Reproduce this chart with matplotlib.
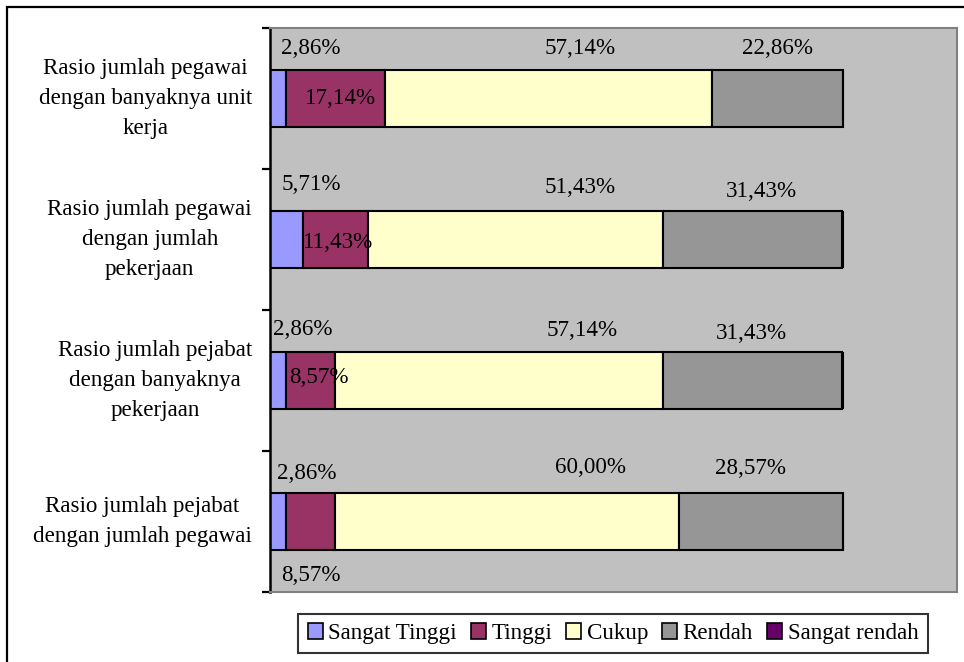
import matplotlib
matplotlib.use("Agg")
import matplotlib.pyplot as plt
from matplotlib.patches import Rectangle, Patch
import numpy as np

plt.rcParams['font.family'] = ['Liberation Serif', 'DejaVu Serif']

categories = [
    "Rasio jumlah pegawai\ndengan banyaknya unit\nkerja",
    "Rasio jumlah pegawai\ndengan jumlah\npekerjaan",
    "Rasio jumlah pejabat\ndengan banyaknya\npekerjaan",
    "Rasio jumlah pejabat\ndengan jumlah pegawai",
]
series_names = ["Sangat Tinggi", "Tinggi", "Cukup", "Rendah", "Sangat rendah"]
sangat_tinggi = [2.86, 5.71, 2.86, 2.86]
tinggi = [17.14, 11.43, 8.57, 8.57]
cukup = [57.14, 51.43, 57.14, 60.00]
rendah = [22.86, 31.43, 31.43, 28.57]
sangat_rendah = [0.0, 0.0, 0.0, 0.0]
colors = ["#9999FF", "#993366", "#FFFFCC", "#969696", "#660066"]

# label placement offsets (data units) relative to segment centre, per series x bar
label_dx = [[5.74, 4.3, 4.25, 5.04],
            [0.81, 0.47, 1.43, 0.03],
            [5.63, 11.35, 14.5, 14.5],
            [0.03, 1.5, -0.2, -1.8]]
label_dy = [[-0.355, -0.39, -0.36, -0.34],
            [0.0, 0.02, -0.02, 0.38],
            [-0.355, -0.37, -0.355, -0.38],
            [-0.355, -0.34, -0.33, -0.375]]

FS = 16.6
W, H = 964, 662
fig = plt.figure(figsize=(W / 100, H / 100), dpi=100)
fig.patch.set_facecolor("white")
fig.patches.append(Rectangle((7 / W, -0.1), 1.2, 1 - 7 / H + 0.1, transform=fig.transFigure,
                             fill=False, edgecolor="black", linewidth=1.6))

ax = fig.add_axes([270 / W, 1 - 592 / H, (957 - 270) / W, (592 - 28) / H])
ax.set_facecolor("#C0C0C0")

all_series = [sangat_tinggi, tinggi, cukup, rendah, sangat_rendah]
y = np.arange(len(categories))
left = np.zeros(len(categories))
for si, vals in enumerate(all_series):
    vals = np.array(vals)
    ax.barh(y, vals, left=left, height=0.4, color=colors[si], edgecolor="black", linewidth=1.5,
            label=series_names[si], zorder=2)
    if si < 4:
        for bi in range(len(categories)):
            cx = left[bi] + vals[bi] / 2 + label_dx[si][bi]
            cy = y[bi] + label_dy[si][bi]
            ax.text(cx, cy, f"{vals[bi]:.2f}%".replace(".", ","), ha="center", va="center",
                    fontsize=FS, color="black", zorder=3)
    left = left + vals

ax.set_xlim(0, 120)
ax.set_ylim(len(categories) - 0.5, -0.5)
ax.set_xticks([])
ax.set_yticks(y)
ax.set_yticklabels(categories, fontsize=FS, multialignment="center", linespacing=1.55, va="center")
ax.set_yticks(np.arange(-0.5, len(categories), 1.0), minor=True)
ax.tick_params(axis="y", which="major", length=0, pad=13)
ax.tick_params(axis="y", which="minor", length=6, width=1.6, color="black", direction="out")
for s in ["top", "right", "bottom"]:
    ax.spines[s].set_color("#808080")
    ax.spines[s].set_linewidth(1.5)
ax.spines["left"].set_color("black")
ax.spines["left"].set_linewidth(1.8)

handles = [Patch(facecolor=colors[i], edgecolor="black", linewidth=1.2, label=series_names[i])
           for i in range(5)]
leg = fig.legend(handles=handles, loc="center", bbox_to_anchor=(613 / W, 1 - 633.5 / H), ncol=5,
                 fontsize=FS, frameon=True, fancybox=False, edgecolor="black",
                 handlelength=0.65, handleheight=0.65, handletextpad=0.25, columnspacing=0.6,
                 borderpad=0.4, borderaxespad=0)
leg.get_frame().set_linewidth(1.5)

fig.savefig("out.png", dpi=100, facecolor="white")
